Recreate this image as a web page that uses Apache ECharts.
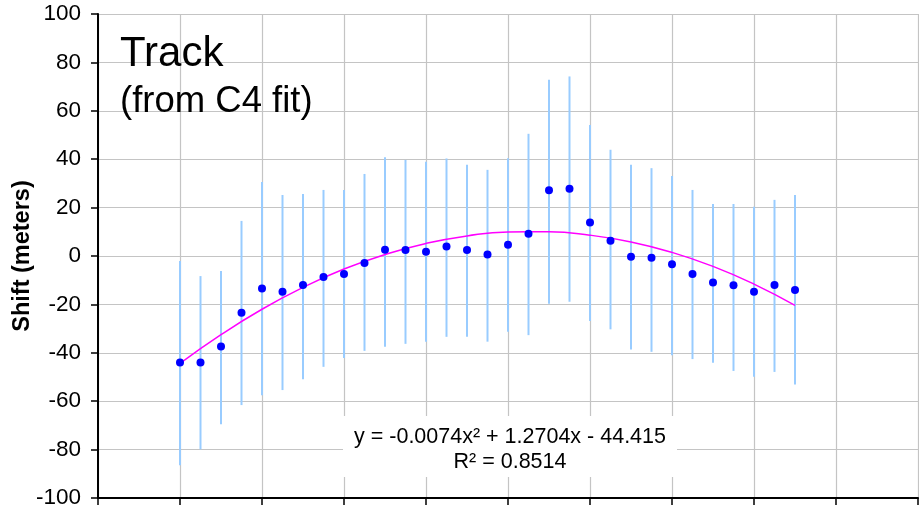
<!DOCTYPE html>
<html>
<head>
<meta charset="utf-8">
<script src="https://cdn.jsdelivr.net/npm/echarts@6/dist/echarts.min.js"></script>
<style>
  html, body { margin: 0; padding: 0; background: #fff; }
  #chart { width: 919px; height: 505px; }
</style>
</head>
<body>
<div id="chart"></div>
<script>
// Track shift vs position, with error bars and quadratic trend line

const xValues = [0, 5, 10, 15, 20, 25, 30, 35, 40, 45, 50, 55, 60, 65, 70, 75,
  80, 85, 90, 95, 100, 105, 110, 115, 120, 125, 130, 135, 140, 145, 150];

const shift = [-44.0, -44.0, -37.4, -23.4, -13.4, -14.8, -12.0, -8.7, -7.4, -2.9,
  2.6, 2.5, 1.8, 3.9, 2.5, 0.6, 4.6, 9.2, 27.2, 27.8, 13.8, 6.3, -0.3, -0.7,
  -3.4, -7.4, -10.9, -12.1, -14.8, -12.0, -14.1];

// top / bottom ends of each error bar
const errHigh = [-2.1, -8.3, -6.2, 14.5, 30.6, 25.2, 25.6, 27.3, 27.3, 33.9,
  40.8, 39.7, 38.9, 40.3, 37.7, 35.6, 40.4, 50.5, 72.8, 74.2, 54.1, 43.9, 37.7,
  36.3, 33.1, 27.3, 21.5, 21.5, 20.4, 23.2, 25.2];
const errLow = [-86.5, -79.9, -69.5, -61.6, -57.5, -55.4, -50.9, -45.8, -42.1,
  -39.2, -37.5, -36.3, -35.4, -33.4, -33.4, -35.4, -31.3, -32.7, -19.7, -18.9,
  -26.9, -30.3, -38.6, -39.6, -41.0, -42.6, -44.1, -47.5, -49.9, -47.9, -53.1];

// poly trend line
const trendX = [0, 10, 20, 30, 40, 50, 60, 70, 80, 90, 100, 110, 120, 130, 140, 150];
const trendY = [-44.4, -32.5, -22.0, -13.0, -5.4, 0.6, 5.2, 8.3, 9.9, 10.0,
  8.6, 5.8, 1.5, -4.3, -11.6, -20.4];

const FONT = '"Liberation Sans", Arial, sans-serif';

const chart = echarts.init(document.getElementById('chart'));

const option = {
  animation: false,
  backgroundColor: '#fff',
  grid: { left: 98, right: 1, top: 14, bottom: 7, outerBoundsMode: 'none' },
  xAxis: {
    type: 'value',
    min: -20,
    max: 180,
    interval: 20,
    axisLine: { onZero: false, lineStyle: { color: '#000', width: 2 } },
    axisTick: { show: true, length: 7, lineStyle: { color: '#000', width: 1.5 } },
    axisLabel: { show: false },
    splitLine: { show: true, lineStyle: { color: '#c4c4c4', width: 1.2 } }
  },
  yAxis: {
    type: 'value',
    min: -100,
    max: 100,
    interval: 20,
    name: 'Shift (meters)',
    nameLocation: 'middle',
    nameRotate: 90,
    nameGap: 63,
    nameMoveOverlap: false,
    nameTextStyle: { fontFamily: FONT, fontSize: 23.5, fontWeight: 'bold', color: '#000' },
    axisLine: { show: true, onZero: false, lineStyle: { color: '#000', width: 2 } },
    axisTick: { show: true, length: 7, lineStyle: { color: '#000', width: 1.5 } },
    axisLabel: { margin: 17, fontFamily: FONT, fontSize: 22.5, color: '#000' },
    splitLine: { show: true, lineStyle: { color: '#c4c4c4', width: 1.2 } }
  },
  graphic: [
    {
      type: 'text', left: 120, top: 33, z: 100,
      style: { text: 'Track', font: '42px ' + FONT, fill: '#000' }
    },
    {
      type: 'text', left: 120, top: 83, z: 100,
      style: { text: '(from C4 fit)', font: '36.5px ' + FONT, fill: '#000' }
    },
    {
      type: 'rect', left: 343, top: 416, z: 100,
      shape: { width: 334, height: 61 },
      style: { fill: '#fff' }
    },
    {
      type: 'text', x: 510, y: 424, z: 101,
      style: {
        text: 'y = -0.0074x\u00b2 + 1.2704x - 44.415\nR\u00b2 = 0.8514',
        font: '21.5px ' + FONT,
        fill: '#000',
        align: 'center',
        verticalAlign: 'top',
        lineHeight: 25.6
      }
    }
  ],
  series: [
    {
      type: 'custom',
      z: 2,
      data: xValues.map((x, i) => [x, errLow[i], errHigh[i]]),
      renderItem: function (params, api) {
        const lo = api.coord([api.value(0), api.value(1)]);
        const hi = api.coord([api.value(0), api.value(2)]);
        return {
          type: 'line',
          shape: { x1: lo[0], y1: lo[1], x2: hi[0], y2: hi[1] },
          style: { stroke: '#99ccff', lineWidth: 2 }
        };
      }
    },
    {
      type: 'line',
      z: 3,
      smooth: true,
      showSymbol: false,
      data: trendX.map((x, i) => [x, trendY[i]]),
      lineStyle: { color: '#ff00ff', width: 1.5 }
    },
    {
      type: 'scatter',
      z: 4,
      symbol: 'circle',
      symbolSize: 8,
      data: xValues.map((x, i) => [x, shift[i]]),
      itemStyle: { color: '#0000ff', opacity: 1 }
    }
  ]
};

chart.setOption(option);
</script>
</body>
</html>
